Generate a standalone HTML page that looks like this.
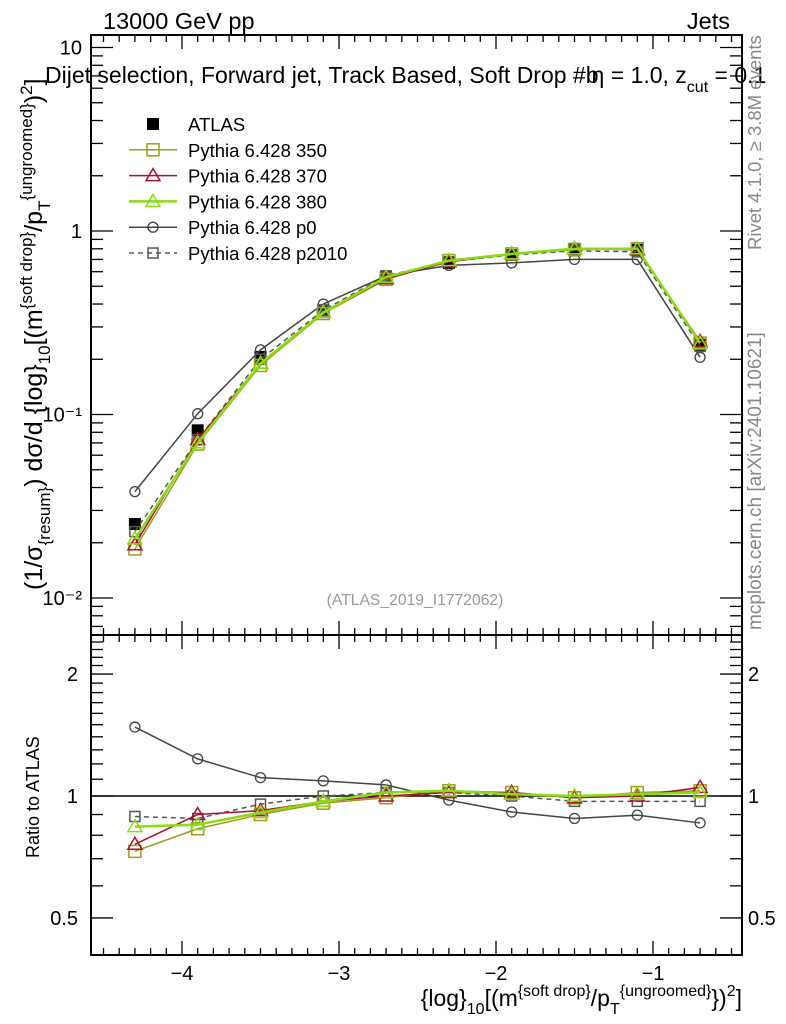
<!DOCTYPE html>
<html><head><meta charset="utf-8"><style>
body{margin:0;background:#fff;overflow:hidden;}
svg{display:block;font-family:"Liberation Sans",sans-serif;}
</style></head><body>
<svg id="chart" width="786" height="1024" viewBox="0 0 786 1024" xmlns="http://www.w3.org/2000/svg">
<g id="frames"></g>
<g id="ticks"></g>
<g id="marks"></g>
<g id="texts">
<text x="103" y="29" font-size="23.5">13000 GeV pp</text>
<text x="730" y="29" font-size="23.5" text-anchor="end">Jets</text>
<text x="45" y="83" font-size="23">Dijet selection, Forward jet, Track Based, Soft Drop #b<tspan dx="-7">η</tspan> = 1.0, z<tspan font-size="16" dy="9">cut</tspan><tspan dy="-9"> = 0.1</tspan></text>
<text x="415" y="605" font-size="15.7" fill="#999" text-anchor="middle">(ATLAS_2019_I1772062)</text>
<text transform="translate(761,250) rotate(-90)" font-size="18.5" fill="#888">Rivet 4.1.0, ≥ 3.8M events</text>
<text transform="translate(761,630) rotate(-90)" font-size="19" fill="#888">mcplots.cern.ch [arXiv:2401.10621]</text>
<text transform="translate(42,590) rotate(-90)" font-size="25">(1/σ<tspan font-size="17" dy="8">{resum}</tspan><tspan dy="-8">) dσ/d {log}</tspan><tspan font-size="17" dy="8">10</tspan><tspan dy="-8">[(m</tspan><tspan font-size="17" dy="-10">{soft drop}</tspan><tspan dy="10">/p</tspan><tspan font-size="17" dy="8">T</tspan><tspan font-size="17" dy="-18">{ungroomed}</tspan><tspan dy="10">)</tspan><tspan font-size="17" dy="-10">2</tspan><tspan dy="10">]</tspan></text>
<text transform="translate(39,858) rotate(-90)" font-size="18">Ratio to ATLAS</text>
<text x="742" y="1006" font-size="23" text-anchor="end">{log}<tspan font-size="16" dy="8">10</tspan><tspan dy="-8">[(m</tspan><tspan font-size="16" dy="-10">{soft drop}</tspan><tspan dy="10">/p</tspan><tspan font-size="16" dy="8">T</tspan><tspan font-size="16" dy="-18">{ungroomed}</tspan><tspan dy="10">})</tspan><tspan font-size="16" dy="-10">2</tspan><tspan dy="10">]</tspan></text>
</g>
<g id="legend"></g>
</svg>
<script>
const xCenters=[-4.3,-3.9,-3.5,-3.1,-2.7,-2.3,-1.9,-1.5,-1.1,-0.7];
const atlas=[0.0253,0.082,0.206,0.37,0.56,0.67,0.74,0.80,0.79,0.24];
const p350=[0.0185,0.069,0.185,0.355,0.545,0.69,0.75,0.79,0.80,0.245];
const p370=[0.0195,0.073,0.19,0.36,0.55,0.68,0.75,0.80,0.79,0.25];
const p380=[0.021,0.07,0.19,0.36,0.56,0.69,0.75,0.80,0.80,0.245];
const p0=[0.038,0.101,0.225,0.40,0.57,0.65,0.67,0.70,0.70,0.205];
const p2010=[0.023,0.073,0.20,0.37,0.57,0.68,0.74,0.78,0.77,0.235];
const r350=[0.73,0.83,0.90,0.96,0.99,1.03,1.02,0.99,1.02,1.03];
const r370=[0.76,0.90,0.92,0.97,1.00,1.02,1.02,0.99,1.00,1.05];
const r380=[0.84,0.85,0.91,0.97,1.02,1.03,1.01,1.00,1.01,1.02];
const rp0=[1.48,1.235,1.11,1.09,1.065,0.977,0.913,0.88,0.897,0.858];
const rp2010=[0.89,0.88,0.955,1.00,1.02,1.02,1.00,0.97,0.97,0.97];
const xTicks=[-4,-3,-2,-1];
const mainTicks=[0.01,0.1,1,10];
const mainTickLabels=["10⁻²","10⁻¹","1","10"];
const ratioTicks=[0.5,1,2];
const ratioTickLabels=["0.5","1","2"];

const L=91,R=742,T=35,MB=635,RB=955;
const X=v=>182+157*(v+4);
const YM=v=>231-183.5*Math.log10(v);
const YR=v=>796-405*Math.log10(v);
const NS="http://www.w3.org/2000/svg";
function mk(tag,attrs,parent){const e=document.createElementNS(NS,tag);for(const k in attrs)e.setAttribute(k,attrs[k]);parent.appendChild(e);return e;}
const fr=document.getElementById('frames'),tk=document.getElementById('ticks'),mg=document.getElementById('marks'),lg=document.getElementById('legend');

let f1=mk('rect',{x:L,y:T,width:R-L,height:MB-T,fill:'none',stroke:'#000','stroke-width':2},fr);


let f2=mk('rect',{x:L,y:MB,width:R-L,height:RB-MB,fill:'none',stroke:'#000','stroke-width':2},fr);


let ul=mk('line',{x1:L,x2:R,y1:YR(1),y2:YR(1),stroke:'#000','stroke-width':1.5},fr);



function line(x1,y1,x2,y2){mk('line',{x1,y1,x2,y2,stroke:'#000','stroke-width':1.3},tk);}
for(let i=-46;i<=-4;i++){const v=i/10;const x=X(v);if(x<L||x>R)continue;const maj=(i%10===0);const h=maj?14:7;
 [T,MB].forEach(y=>line(x,y,x,y+h));[MB,RB].forEach(y=>line(x,y,x,y-h));}
xTicks.forEach(v=>{const t=mk('text',{x:X(v),y:980,'font-size':20,'text-anchor':'middle'},tk);t.textContent='−'+Math.abs(v);
 
 });
for(let d=-3;d<=1;d++){for(let m=1;m<=9;m++){const v=m*Math.pow(10,d);const y=YM(v);if(y<T||y>MB)continue;const h=m===1?22:12;line(L,y,L+h,y);line(R,y,R-h,y);}}
mainTicks.forEach((v,i)=>{const t=mk('text',{x:82,y:YM(v)+7,'font-size':20,'text-anchor':'end'},tk);t.textContent=mainTickLabels[i];
 
 });
[0.4,0.5,0.6,0.7,0.8,0.9,1,1.1,1.2,1.3,1.4,1.5,1.6,1.7,1.8,1.9,2,2.1,2.2,2.3,2.4].forEach(v=>{const y=YR(v);if(y<MB||y>RB)return;const h=(v===0.5||v===1||v===2)?22:12;line(L,y,L+h,y);line(R,y,R-h,y);});
ratioTicks.forEach((v,i)=>{const t=mk('text',{x:78,y:YR(v)+7,'font-size':20,'text-anchor':'end'},tk);t.textContent=ratioTickLabels[i];
 
 
 const t2=mk('text',{x:748,y:YR(v)+7,'font-size':20},tk);t2.textContent=ratioTickLabels[i];
 
 });

function marker(type,x,y,col,g){
 if(type==='sq')mk('rect',{x:x-6,y:y-6,width:12,height:12,fill:'none',stroke:col,'stroke-width':1.5},g);
 else if(type==='ssq')mk('rect',{x:x-5,y:y-5,width:10,height:10,fill:'none',stroke:col,'stroke-width':1.5},g);
 else if(type==='tri')mk('polygon',{points:`${x},${y-7} ${x-7},${y+5} ${x+7},${y+5}`,fill:'none',stroke:col,'stroke-width':1.5},g);
 else if(type==='circ')mk('circle',{cx:x,cy:y,r:5,fill:'none',stroke:col,'stroke-width':1.3},g);
 else if(type==='fill')mk('rect',{x:x-6,y:y-6,width:12,height:12,fill:'#000'},g);
}
const series=[
 {name:'pythia-p0',m:p0,r:rp0,col:'#444',type:'circ',w:1.5,dash:null},
 {name:'pythia-p2010',m:p2010,r:rp2010,col:'#555',type:'ssq',w:1.5,dash:'5,4'},
 {name:'pythia-350',m:p350,r:r350,col:'#a09a1e',type:'sq',w:1.5,dash:null},
 {name:'pythia-370',m:p370,r:r370,col:'#aa1030',type:'tri',w:1.5,dash:null},
 {name:'pythia-380',m:p380,r:r380,col:'#88dd11',type:'tri',w:2.5,dash:null}];
const ag=mk('g',{},mg);


atlas.forEach((v,i)=>marker('fill',X(xCenters[i]),YM(v),'#000',ag));
series.forEach(s=>{
 [[s.m,YM,'main'],[s.r,YR,'ratio']].forEach(([arr,Y,p])=>{
  const g=mk('g',{},mg);
  
  
  const pts=arr.map((v,i)=>X(xCenters[i])+','+Y(v)).join(' ');
  const pl=mk('polyline',{points:pts,fill:'none',stroke:s.col,'stroke-width':s.w},g);
  if(s.dash)pl.setAttribute('stroke-dasharray',s.dash);
  arr.forEach((v,i)=>marker(s.type,X(xCenters[i]),Y(v),s.col,g));
 });
});
const leg=[['ATLAS','fill','#000',0,null],['Pythia 6.428 350','sq','#a09a1e',1.5,null],['Pythia 6.428 370','tri','#aa1030',1.5,null],['Pythia 6.428 380','tri','#88dd11',2.5,null],['Pythia 6.428 p0','circ','#444',1.5,null],['Pythia 6.428 p2010','ssq','#555',1.5,'5,4']];
leg.forEach((e,i)=>{const y=124+25.8*i;const g=mk('g',{},lg);
 
 
 if(e[3])mk('line',{x1:129,x2:177,y1:y,y2:y,stroke:e[2],'stroke-width':e[3],'stroke-dasharray':e[4]||'none'},g);
 marker(e[1],153,y,e[2],g);
 const t=mk('text',{x:188,y:y+7,'font-size':18.5},g);t.textContent=e[0];});
</script>
</body></html>
